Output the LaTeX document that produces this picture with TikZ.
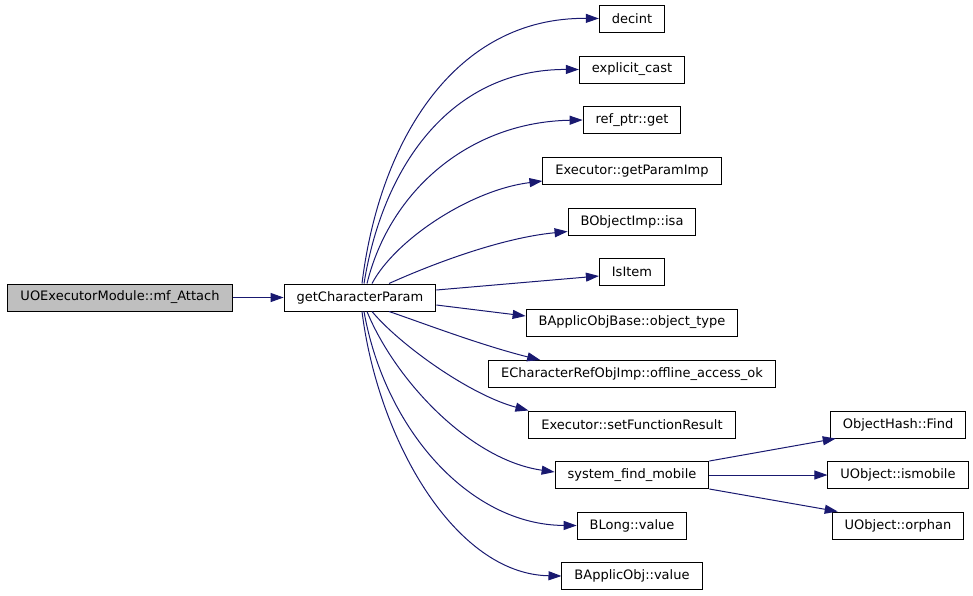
\documentclass[tikz,border=0pt]{standalone}
\usepackage{fontspec}
\setmainfont{DejaVu Sans}
\usepackage{tikz}
\usetikzlibrary{arrows.meta}
\definecolor{bleuappel}{HTML}{191970}
\definecolor{grisfond}{HTML}{BFBFBF}
\tikzset{func/.style={
    draw, line width=1pt,
    minimum height=27pt, inner xsep=12.5pt,
    font=\fontsize{13}{15}\selectfont}}
\tikzset{call/.style={
    -{Triangle[length=13pt,width=9pt]},
    line width=1pt, draw=bleuappel, fill=none}}

\begin{document}
\begin{tikzpicture}[x=1pt,y=-1pt]
\useasboundingbox (0,0) rectangle (973,595);

  % appelant
  \node[func, fill=grisfond] (mf) at (120,297.5) {UOExecutorModule::mf\_Attach};
  \node[func] (gcp) at (360,297.5) {getCharacterParam};

  % appelés
  \node[func] (decint) at (632,18.5) {decint};
  \node[func] (expl) at (632,69.5) {explicit\_cast};
  \node[func] (refptr) at (632,120) {ref\_ptr::get};
  \node[func] (gpi) at (632,171) {Executor::getParamImp};
  \node[func] (isa) at (632,221.5) {BObjectImp::isa};
  \node[func] (isitem) at (632,272) {IsItem};
  \node[func] (objtype) at (632,322.5) {BApplicObjBase::object\_type};
  \node[func] (offline) at (632,374) {ECharacterRefObjImp::offline\_access\_ok};
  \node[func] (setfr) at (632,424.5) {Executor::setFunctionResult};
  \node[func] (sfm) at (632,475) {system\_find\_mobile};
  \node[func] (blong) at (632,525.5) {BLong::value};
  \node[func] (bapval) at (632,576) {BApplicObj::value};

  \node[func] (find) at (898,424.5) {ObjectHash::Find};
  \node[func] (ismob) at (898,475) {UObject::ismobile};
  \node[func] (orphan) at (898,525.5) {UObject::orphan};

  % appels
  \draw[call] (mf) -- (gcp);

  \draw[call] ([xshift=2pt]gcp.north) .. controls (380,137) and (457,17) .. (decint.west);
  \draw[call] ([xshift=4pt]gcp.north) .. controls (384,160) and (455,69) .. (expl.west);
  \draw[call] ([xshift=7pt]gcp.north) .. controls (390,190) and (470,122) .. (refptr.west);
  \draw[call] ([xshift=12pt]gcp.north) .. controls (395,240) and (470,190) .. ([yshift=4pt]gpi.south west);
  \draw[call] ([xshift=29pt]gcp.north) .. controls (430,265) and (500,238) .. ([yshift=4pt]isa.south west);
  \draw[call] ([yshift=7.5pt]gcp.east) -- ([yshift=-4pt]isitem.west);
  \draw[call] ([yshift=-7.5pt]gcp.east) -- ([yshift=6.5pt]objtype.west);
  \draw[call] ([xshift=29pt]gcp.south) .. controls (420,322) and (480,345) .. ([xshift=52pt]offline.north west);
  \draw[call] ([xshift=12pt]gcp.south) .. controls (400,345) and (470,395) .. (setfr.north west);
  \draw[call] ([xshift=7pt]gcp.south) .. controls (395,380) and (470,460) .. ([yshift=3pt]sfm.west);
  \draw[call] ([xshift=4pt]gcp.south) .. controls (385,430) and (470,525) .. (blong.west);
  \draw[call] ([xshift=2pt]gcp.south) .. controls (378,440) and (455,574) .. (bapval.west);

  \draw[call] (sfm.north east) -- ([xshift=6pt]find.south west);
  \draw[call] (sfm.east) -- (ismob.west);
  \draw[call] (sfm.south east) -- ([xshift=6pt]orphan.north west);
\end{tikzpicture}
\end{document}
